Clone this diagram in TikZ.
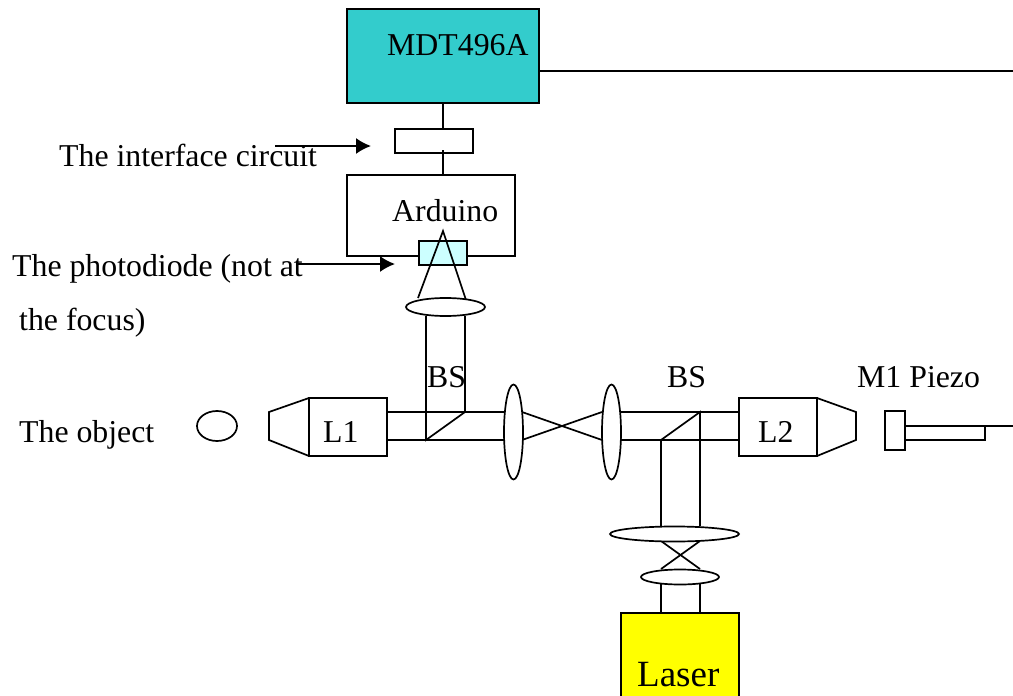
\documentclass[tikz,border=0pt]{standalone}
\usepackage{fontspec}
\setmainfont{Liberation Serif}
\usetikzlibrary{arrows.meta,shapes.geometric}
\definecolor{laseryellow}{RGB}{255,255,0}
\definecolor{mdtteal}{RGB}{51,204,204}
\definecolor{pdcyan}{RGB}{204,255,255}
\tikzset{
  x=1pt,y=-1pt,
  ln/.style={draw=black,line width=1.7pt},
  box/.style={ln,rectangle,inner sep=0pt,outer sep=0pt,anchor=north west},
  lensh/.style={ln,ellipse,fill=white,inner sep=0pt,outer sep=0pt},
  lbl/.style={inner sep=0pt,anchor=base west,font=\fontsize{31.8}{32}\selectfont},
  arr/.style={ln,-{Latex[length=15pt,width=16pt]}}
}
\newcommand{\bx}[6]{\node[box,minimum width=#4pt,minimum height=#5pt,#6] (#1) at (#2,#3) {};}
\begin{document}
\begin{tikzpicture}
\useasboundingbox (0,0) rectangle (1013,696);
\clip (0,0) rectangle (1013,696);
\coordinate (edgeT) at (1013,71);
\coordinate (edgeP) at (1013,426);
\coordinate (cx) at (443,0);
% vertical beam to photodiode
\draw[ln] (426,316) -- (426,440) -- (465,412) -- (465,316);
% horizontal beams
\draw[ln] (387,412) -- (504,412) (387,440) -- (504,440);
\draw[ln] (522,412) -- (602,440) (522,440) -- (602,412);
\draw[ln] (620,412) -- (739,412) (620,440) -- (739,440);
% right BS
\draw[ln] (661,440) -- (700,412) -- (700,526);
\draw[ln] (661,440) -- (661,526);
\draw[ln] (661,541) -- (700,569) (700,541) -- (661,569);
\draw[ln] (661,584) -- (661,613) (700,584) -- (700,613);
% boxes
\bx{mdt}{347}{9}{192}{94}{fill=mdtteal}
\bx{ifc}{395}{129}{78}{24}{fill=white}
\bx{ard}{347}{175}{168}{81}{fill=white}
\bx{pd}{419}{241}{48}{24}{fill=pdcyan}
\bx{lone}{309}{398}{78}{58}{fill=white}
\bx{ltwo}{739}{398}{78}{58}{fill=white}
\bx{las}{621}{613}{118}{90}{fill=laseryellow}
\bx{mir}{885}{411}{20}{39}{fill=white}
% connectors
\draw[ln] (mdt.south -| cx) -- (ifc.north -| cx);
\draw[ln] ([yshift=3pt]ifc.south -| cx) -- (ard.north -| cx);
\draw[ln] (mdt.east |- edgeT) -- (edgeT);
% noses
\draw[ln] (lone.north west) -- (269,412) -- (269,440) -- (lone.south west);
\draw[ln] (ltwo.north east) -- (856,412) -- (856,440) -- (ltwo.south east);
% piezo
\draw[ln] (mir.east |- edgeP) -- (edgeP);
\draw[ln] (905,440) -- (985,440) -- (985,426);
% focus triangle
\draw[ln] (418,298) -- (443,231) -- (466,300);
% ellipses
\node[lensh,minimum width=79pt,minimum height=18pt] (lfoc) at (445.5,307) {};
\node[lensh,minimum width=19pt,minimum height=95pt] (lm1) at (513.5,432) {};
\node[lensh,minimum width=19pt,minimum height=95pt] (lm2) at (611.5,432) {};
\node[lensh,minimum width=129pt,minimum height=15pt] (lb1) at (674.5,534) {};
\node[lensh,minimum width=78pt,minimum height=15pt] (lb2) at (680,577) {};
\node[lensh,minimum width=40pt,minimum height=30pt] (obj) at (217,426) {};
% labels
\node[lbl] (tm) at (387,55) {MDT496A};
\node[lbl] (ti) at (59,166) {The interface circuit};
\node[lbl] (ta) at (392,221) {Arduino};
\node[lbl] (tp) at (12,276) {The photodiode (not at};
\node[lbl] (tf) at (19,330) {the focus)};
\node[lbl] (tb1) at (427,387) {BS};
\node[lbl] (tb2) at (667,387) {BS};
\node[lbl] (tz) at (857,387) {M1 Piezo};
\node[lbl] (to) at (19,442) {The object};
\node[lbl] (tl1) at (323,442) {L1};
\node[lbl] (tl2) at (758,442) {L2};
\node[lbl,font=\fontsize{37}{37}\selectfont] (tl) at (637,686) {Laser};
% arrows
\coordinate (a1s) at (275,146);
\coordinate (a1e) at (371,146);
\coordinate (a2s) at (298,264);
\coordinate (a2e) at (395,264);
\draw[arr] (a1s) -- (a1e);
\draw[arr] (a2s) -- (a2e);
\end{tikzpicture}
\end{document}
